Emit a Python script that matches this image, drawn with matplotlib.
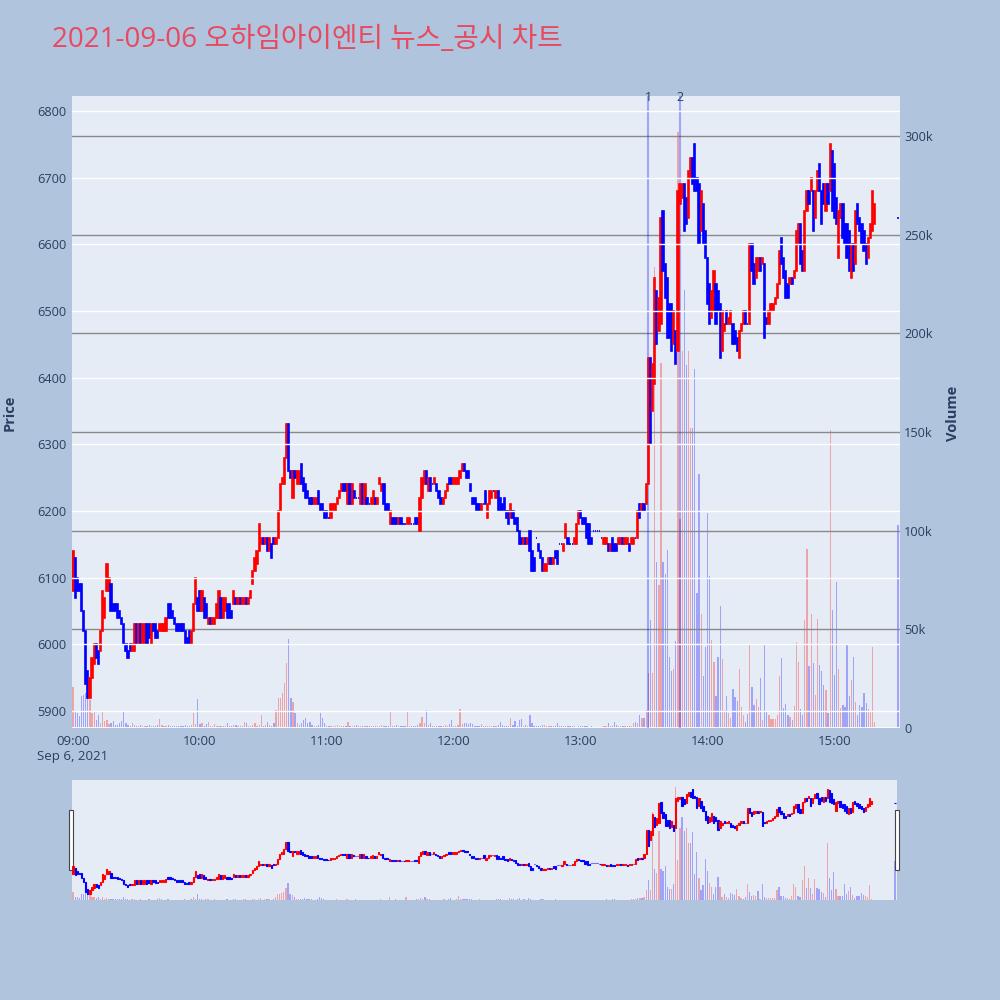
import matplotlib
matplotlib.use('Agg')
import matplotlib.pyplot as plt
from matplotlib.patches import Rectangle
from matplotlib.ticker import FuncFormatter
import matplotlib.transforms as mtransforms

plt.rcParams['font.family'] = ['Open Sans', 'Noto Sans CJK KR', 'DejaVu Sans']

title = '2021-09-06 오하임아이엔티 뉴스_공시 차트'

# 분 단위 (09:00 기준 경과 분), 마지막 15:30 은 동시호가 체결
minutes = list(range(380)) + [390]

opens = [
    6080, 6130, 6100, 6090, 6090, 6050, 6020, 5960, 5920, 5950,
    5970, 6000, 5990, 5990, 6020, 6040, 6080, 6080, 6090, 6060,
    6060, 6060, 6050, 6040, 6030, 6000, 5990, 6000, 5990, 5990,
    6030, 6000, 6030, 6000, 6000, 6030, 6030, 6000, 6030, 6030,
    6020, 6020, 6020, 6020, 6020, 6060, 6060, 6050, 6040, 6030,
    6030, 6030, 6030, 6020, 6010, 6020, 6000, 6020, 6060, 6070,
    6080, 6050, 6070, 6060, 6030, 6040, 6030, 6030, 6040, 6040,
    6070, 6040, 6050, 6060, 6060, 6050, 6060, 6070, 6060, 6070,
    6060, 6060, 6070, 6060, 6070, 6090, 6110, 6120, 6140, 6150,
    6160, 6150, 6160, 6140, 6150, 6160, 6150, 6160, 6200, 6240,
    6240, 6280, 6330, 6260, 6220, 6260, 6240, 6240, 6270, 6250,
    6240, 6230, 6220, 6220, 6210, 6210, 6230, 6210, 6210, 6200,
    6200, 6190, 6190, 6200, 6200, 6210, 6220, 6230, 6240, 6240,
    6210, 6240, 6210, 6230, 6220, 6220, 6210, 6240, 6210, 6220,
    6210, 6210, 6210, 6220, 6210, 6240, 6230, 6240, 6210, 6210,
    6180, 6190, 6190, 6190, 6180, 6190, 6180, 6180, 6180, 6180,
    6180, 6180, 6190, 6190, 6170, 6220, 6240, 6260, 6230, 6250,
    6240, 6240, 6240, 6230, 6220, 6210, 6220, 6230, 6250, 6250,
    6240, 6240, 6240, 6250, 6260, 6270, 6260, 6260, 6240, 6220,
    6220, 6210, 6210, 6200, 6210, 6230, 6190, 6210, 6220, 6230,
    6220, 6230, 6220, 6210, 6220, 6200, 6200, 6190, 6200, 6190,
    6190, 6170, 6160, 6150, 6160, 6150, 6170, 6140, 6130, 6160,
    6150, 6140, 6130, 6110, 6110, 6120, 6130, 6120, 6140, 6140,
    6150, 6150, 6140, 6160, 6160, 6150, 6150, 6150, 6150, 6180,
    6200, 6190, 6190, 6180, 6180, 6160, 6170, 6170, 6170, 6170,
    6160, 6150, 6150, 6150, 6140, 6160, 6150, 6150, 6150, 6150,
    6160, 6150, 6150, 6150, 6150, 6150, 6160, 6160, 6210, 6200,
    6210, 6210, 6240, 6430, 6350, 6390, 6530, 6470, 6480, 6650,
    6570, 6550, 6510, 6510, 6450, 6470, 6440, 6660, 6670, 6690,
    6670, 6640, 6700, 6730, 6750, 6700, 6690, 6620, 6660, 6620,
    6580, 6540, 6490, 6500, 6540, 6530, 6510, 6440, 6470, 6500,
    6480, 6480, 6480, 6470, 6460, 6430, 6470, 6480, 6500, 6480,
    6480, 6600, 6570, 6550, 6560, 6580, 6570, 6570, 6490, 6480,
    6500, 6500, 6510, 6520, 6540, 6610, 6580, 6560, 6540, 6540,
    6550, 6550, 6560, 6600, 6630, 6590, 6560, 6650, 6680, 6680,
    6680, 6640, 6680, 6720, 6680, 6690, 6650, 6690, 6680, 6740,
    6720, 6670, 6580, 6640, 6660, 6630, 6630, 6620, 6550, 6600,
    6570, 6660, 6640, 6630, 6620, 6600, 6580, 6610, 6620, 6630,
    6640,
]

closes = [
    6140, 6070, 6080, 6080, 6050, 6020, 5940, 5920, 5950, 5980,
    6000, 5980, 5970, 6020, 6080, 6070, 6120, 6100, 6050, 6050,
    6050, 6040, 6040, 6030, 6000, 5990, 5980, 5990, 6000, 6030,
    6000, 6030, 6000, 6030, 6030, 6000, 6010, 6030, 6020, 6010,
    6010, 6030, 6030, 6030, 6040, 6040, 6040, 6040, 6030, 6020,
    6020, 6020, 6020, 6000, 6000, 6000, 6020, 6060, 6100, 6050,
    6050, 6080, 6040, 6040, 6040, 6030, 6040, 6040, 6060, 6080,
    6040, 6070, 6070, 6040, 6040, 6040, 6080, 6060, 6070, 6060,
    6070, 6070, 6060, 6070, 6080, 6110, 6130, 6140, 6180, 6160,
    6150, 6160, 6140, 6160, 6130, 6150, 6160, 6200, 6240, 6250,
    6280, 6330, 6260, 6250, 6260, 6250, 6260, 6260, 6240, 6230,
    6220, 6220, 6210, 6210, 6220, 6220, 6210, 6200, 6200, 6190,
    6190, 6190, 6210, 6210, 6210, 6220, 6230, 6240, 6230, 6230,
    6240, 6210, 6240, 6220, 6220, 6220, 6240, 6210, 6240, 6210,
    6210, 6220, 6230, 6210, 6220, 6250, 6240, 6210, 6200, 6200,
    6200, 6180, 6180, 6180, 6190, 6180, 6180, 6180, 6190, 6190,
    6180, 6180, 6180, 6180, 6220, 6250, 6260, 6240, 6250, 6230,
    6240, 6250, 6230, 6220, 6210, 6220, 6230, 6240, 6240, 6240,
    6250, 6250, 6250, 6260, 6270, 6260, 6250, 6250, 6230, 6210,
    6210, 6200, 6200, 6210, 6210, 6210, 6210, 6230, 6230, 6230,
    6230, 6200, 6200, 6200, 6200, 6190, 6180, 6210, 6190, 6180,
    6170, 6150, 6150, 6160, 6150, 6160, 6140, 6110, 6110, 6160,
    6140, 6130, 6110, 6120, 6120, 6130, 6120, 6130, 6130, 6120,
    6150, 6150, 6150, 6180, 6150, 6150, 6150, 6160, 6180, 6200,
    6190, 6180, 6180, 6160, 6150, 6150, 6170, 6170, 6170, 6170,
    6160, 6160, 6160, 6140, 6150, 6140, 6140, 6140, 6160, 6160,
    6150, 6160, 6160, 6140, 6160, 6160, 6160, 6200, 6190, 6210,
    6200, 6240, 6430, 6300, 6420, 6550, 6450, 6520, 6640, 6560,
    6520, 6460, 6460, 6440, 6500, 6420, 6680, 6690, 6690, 6620,
    6630, 6710, 6730, 6690, 6680, 6680, 6600, 6680, 6600, 6580,
    6510, 6480, 6530, 6560, 6480, 6500, 6430, 6500, 6480, 6480,
    6490, 6500, 6450, 6450, 6440, 6470, 6480, 6500, 6480, 6480,
    6600, 6560, 6540, 6580, 6580, 6560, 6580, 6460, 6480, 6500,
    6510, 6510, 6520, 6540, 6590, 6570, 6550, 6520, 6520, 6550,
    6540, 6560, 6620, 6630, 6570, 6560, 6650, 6680, 6660, 6700,
    6620, 6680, 6710, 6680, 6630, 6660, 6690, 6660, 6750, 6650,
    6640, 6630, 6650, 6660, 6610, 6600, 6580, 6560, 6600, 6560,
    6650, 6630, 6620, 6600, 6590, 6570, 6610, 6630, 6680, 6660,
    6640,
]

volumes = [
    21000, 8600, 7600, 6300, 16000, 16700, 17600, 17000, 14000, 7600,
    8000, 4200, 6800, 2500, 8000, 3400, 4200, 2000, 2500, 3400,
    1500, 1500, 2500, 3400, 8400, 2500, 1500, 1000, 2500, 1500,
    1000, 1000, 1700, 1000, 1000, 800, 1500, 1000, 800, 1000,
    1500, 4500, 1500, 1000, 800, 1700, 1000, 800, 1000, 1200,
    800, 1000, 1000, 1700, 800, 1000, 1500, 7600, 2000, 14700,
    2000, 2400, 1000, 2000, 3000, 1000, 800, 2000, 1000, 1000,
    800, 1000, 1200, 2400, 1000, 800, 1500, 1500, 1000, 800,
    1000, 3000, 2400, 1000, 1200, 1500, 2400, 1000, 1500, 6600,
    1000, 1500, 3200, 1500, 1000, 2400, 9000, 15000, 15400, 17600,
    22600, 32800, 44900, 15400, 13400, 7500, 2700, 1500, 2700, 4000,
    4900, 2700, 3200, 1500, 1000, 1200, 1500, 7400, 4900, 2700,
    1000, 800, 1200, 1000, 800, 1500, 1000, 1200, 800, 1000,
    3200, 1000, 800, 1000, 1500, 1000, 800, 1200, 1000, 800,
    1000, 800, 1200, 1000, 800, 1000, 1500, 1000, 1200, 1000,
    8300, 1000, 800, 1500, 1000, 800, 1000, 1200, 8300, 1000,
    800, 1200, 1000, 1500, 2500, 5700, 2500, 9100, 1500, 2500,
    1000, 800, 1200, 1000, 800, 1000, 1500, 1200, 2000, 4200,
    1000, 1200, 1500, 9500, 2000, 2500, 2500, 2000, 2500, 2000,
    1000, 800, 1200, 2000, 1000, 800, 1200, 1000, 800, 1000,
    1200, 1500, 3200, 1500, 1000, 1200, 1000, 4900, 1500, 3700,
    1200, 4000, 4400, 1000, 1500, 1200, 6600, 2400, 1000, 800,
    1200, 1000, 1500, 1500, 1000, 800, 1000, 1200, 1000, 2700,
    800, 800, 1000, 1200, 1000, 800, 800, 1000, 700, 1200,
    1000, 800, 1000, 800, 700, 1000, 500, 500, 500, 500,
    500, 1000, 800, 2700, 1000, 1200, 3200, 1500, 1000, 800,
    1000, 1200, 800, 1000, 1000, 2400, 3000, 2500, 6600, 4900,
    4900, 9100, 27900, 54700, 27900, 233800, 84000, 72500, 185000, 84000,
    78000, 90000, 36000, 29000, 30000, 44000, 302000, 106000, 191000, 222000,
    184000, 191000, 152000, 152000, 182000, 68600, 128700, 58000, 26400, 41000,
    109000, 77000, 44600, 33600, 16400, 36000, 62000, 35000, 8300, 16300,
    7400, 4900, 19600, 15600, 13700, 29900, 10800, 6600, 3200, 7000,
    42600, 20900, 11700, 14500, 10500, 25300, 4000, 42400, 8600, 6600,
    4400, 4400, 4400, 6600, 26400, 35600, 10000, 12000, 6600, 5700,
    4000, 11000, 43600, 33600, 9800, 6800, 54700, 90700, 31600, 58000,
    32900, 16900, 55300, 32000, 28700, 21900, 19400, 7400, 151000, 59600,
    26900, 74000, 29700, 10000, 11700, 10500, 42200, 16000, 24400, 35800,
    13400, 6600, 11700, 10500, 17800, 12500, 9500, 8300, 41000, 3000,
    102900,
]

news_minutes = [272, 287]   # 13:32, 13:47
news_labels = ['1', '2']

tick_minutes = [0, 60, 120, 180, 240, 300, 360]
tick_labels = ['09:00\nSep 6, 2021', '10:00', '11:00', '12:00', '13:00', '14:00', '15:00']

price_ticks = [5900, 6000, 6100, 6200, 6300, 6400, 6500, 6600, 6700, 6800]
volume_ticks = [0, 50000, 100000, 150000, 200000, 250000, 300000]

UP = '#FF0000'
DOWN = '#0000FF'
FONT_C = '#2a3f5f'
PLOT_BG = '#E5ECF6'

colors = [UP if c > o else DOWN for o, c in zip(opens, closes)]
vol_colors = [(1, 0, 0, 0.3) if c > o else (0, 0, 1, 0.3) for o, c in zip(opens, closes)]
bottoms = [min(o, c) for o, c in zip(opens, closes)]
heights = [abs(c - o) for o, c in zip(opens, closes)]

fig = plt.figure(figsize=(10, 10), dpi=100, facecolor='#B0C4DE')


def draw_panel(ax_p, ax_v, lw):
    ax_v.bar(minutes, volumes, width=0.6, color=vol_colors, linewidth=0)
    ax_p.bar(minutes, heights, bottom=bottoms, width=0.6, color=colors,
             edgecolor=colors, linewidth=lw)
    ax_p.set_xlim(-0.5, 391)
    ax_p.set_ylim(5874.5, 6822.5)
    ax_v.set_ylim(0, 320300)
    ax_p.set_zorder(2)
    ax_v.set_zorder(1)
    ax_p.patch.set_visible(False)
    ax_v.patch.set_facecolor(PLOT_BG)
    for a in (ax_p, ax_v):
        for s in a.spines.values():
            s.set_visible(False)


# 메인 차트
ax_v = fig.add_axes([0.072, 0.272, 0.828, 0.632])
ax_p = ax_v.twinx()
ax_p.yaxis.tick_left()
ax_v.yaxis.tick_right()
draw_panel(ax_p, ax_v, 1.2)

ax_p.set_yticks(price_ticks)
ax_p.grid(axis='y', color='white', linewidth=1)
ax_v.set_yticks(volume_ticks)
ax_v.yaxis.set_major_formatter(FuncFormatter(lambda v, p: '0' if v == 0 else '%dk' % (v / 1000)))
ax_v.grid(axis='y', color='#8a8a8a', linewidth=1)
ax_v.axhline(0, color='white', linewidth=2)

ax_v.set_xticks(tick_minutes)
ax_v.set_xticklabels(tick_labels)
ax_v.tick_params(axis='x', length=0, pad=5, labelsize=9.5, labelcolor=FONT_C)
ax_p.tick_params(axis='y', length=0, pad=4, labelsize=9.2, labelcolor=FONT_C)
ax_v.tick_params(axis='y', length=0, pad=3, labelsize=9.2, labelcolor=FONT_C)

# 뉴스/공시 표시선
trans = mtransforms.blended_transform_factory(ax_p.transData, ax_p.transAxes)
for m, lab in zip(news_minutes, news_labels):
    ax_p.axvline(m, color=(0, 0, 1, 0.3), linewidth=1.5, zorder=0.5)
    ax_p.text(m, 0.998, lab, transform=trans, ha='center', va='center',
              fontsize=9, color=FONT_C)

fig.text(0.010, 0.587, 'Price', rotation=90, ha='center', va='center',
         fontsize=10.5, fontweight='bold', color=FONT_C)
fig.text(0.953, 0.587, 'Volume', rotation=90, ha='center', va='center',
         fontsize=10.5, fontweight='bold', color=FONT_C)
fig.text(0.052, 0.960, title, ha='left', va='center', fontsize=20,
         color='#E8495F', family=['Open Sans', 'Noto Sans CJK KR'])

# 레인지 슬라이더
ax_rv = fig.add_axes([0.072, 0.100, 0.825, 0.120])
ax_rp = ax_rv.twinx()
draw_panel(ax_rp, ax_rv, 0.8)
ax_rv.set_xticks([])
ax_rv.set_yticks([])
ax_rp.set_yticks([])

for hx in (0.069, 0.895):
    fig.patches.append(Rectangle((hx, 0.130), 0.004, 0.060, transform=fig.transFigure,
                                 facecolor='white', edgecolor='#444444', linewidth=0.8))

fig.savefig('out.png', dpi=100, facecolor=fig.get_facecolor())
